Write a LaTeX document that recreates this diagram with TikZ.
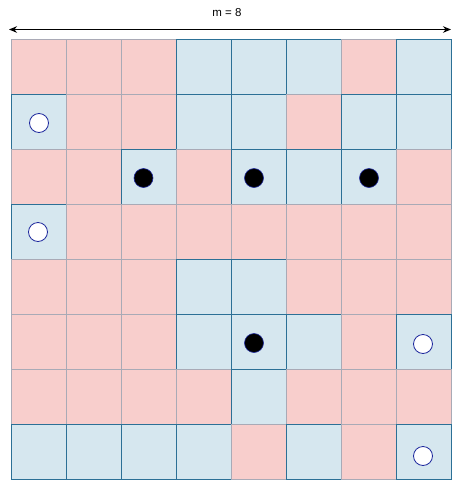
\documentclass[tikz,border=0pt]{standalone}
\usepackage{fontspec}
\setmainfont{Liberation Sans}
\usetikzlibrary{arrows.meta,positioning}
\definecolor{cellpink}{HTML}{F8CECC}
\definecolor{linegray}{HTML}{A9AAB6}
\definecolor{cellblue}{HTML}{D6E7EF}
\definecolor{lineteal}{HTML}{2C7096}
\definecolor{ringblue}{HTML}{1F2A9E}
\tikzstyle{cellR} = [draw=linegray, fill=cellpink, rectangle, minimum size=55pt, inner sep=0pt, line width=0.8pt]
\tikzstyle{cellB} = [draw=lineteal, fill=cellblue, rectangle, minimum size=55pt, inner sep=0pt, line width=0.8pt]
\tikzstyle{hole} = [draw=ringblue, fill=white, circle, minimum size=19pt, inner sep=0pt, line width=0.8pt]
\tikzstyle{stone} = [draw=ringblue, fill=black, circle, minimum size=19pt, inner sep=0pt, line width=0.6pt]
\tikzstyle{label} = [font=\fontsize{11.5}{14}\selectfont, inner sep=0pt]

\begin{document}
\begin{tikzpicture}[x=1pt, y=-1pt, >={Stealth[length=8pt,width=6.5pt]}]
    \useasboundingbox (0,0) rectangle (461,480);
    % Grid, row by row
    \foreach \row [count=\r from 0] in {{R,R,R,B,B,B,R,B},{B,R,R,B,B,R,B,B},{R,R,B,R,B,B,B,R},{B,R,R,R,R,R,R,R},{R,R,R,B,B,R,R,R},{R,R,R,B,B,B,R,B},{R,R,R,R,B,R,R,R},{B,B,B,B,R,B,R,B}}
    {
        \foreach \t [count=\c from 0] in \row
            \node [cell\t] (c\r\c) at ({38.5+55*\c},{66.5+55*\r}) {};
    }
    % Markers
    \node [hole] (h1) at (39,123) {};
    \node [hole] (h2) at (38,232) {};
    \node [hole] (h3) at (423,344) {};
    \node [hole] (h4) at (423,456) {};
    \node [stone] (s1) at (143.5,178) {};
    \node [stone] (s2) at (254,178) {};
    \node [stone] (s3) at (369,178) {};
    \node [stone] (s4) at (254,343) {};
    % Width
    \coordinate (wleft) at (9,29.5);
    \coordinate (wright) at (451,29.5);
    \draw [<->, line width=0.9pt] (wleft) -- (wright);
    \node [label] (m) at (227,13) {m = 8};
\end{tikzpicture}
\end{document}
